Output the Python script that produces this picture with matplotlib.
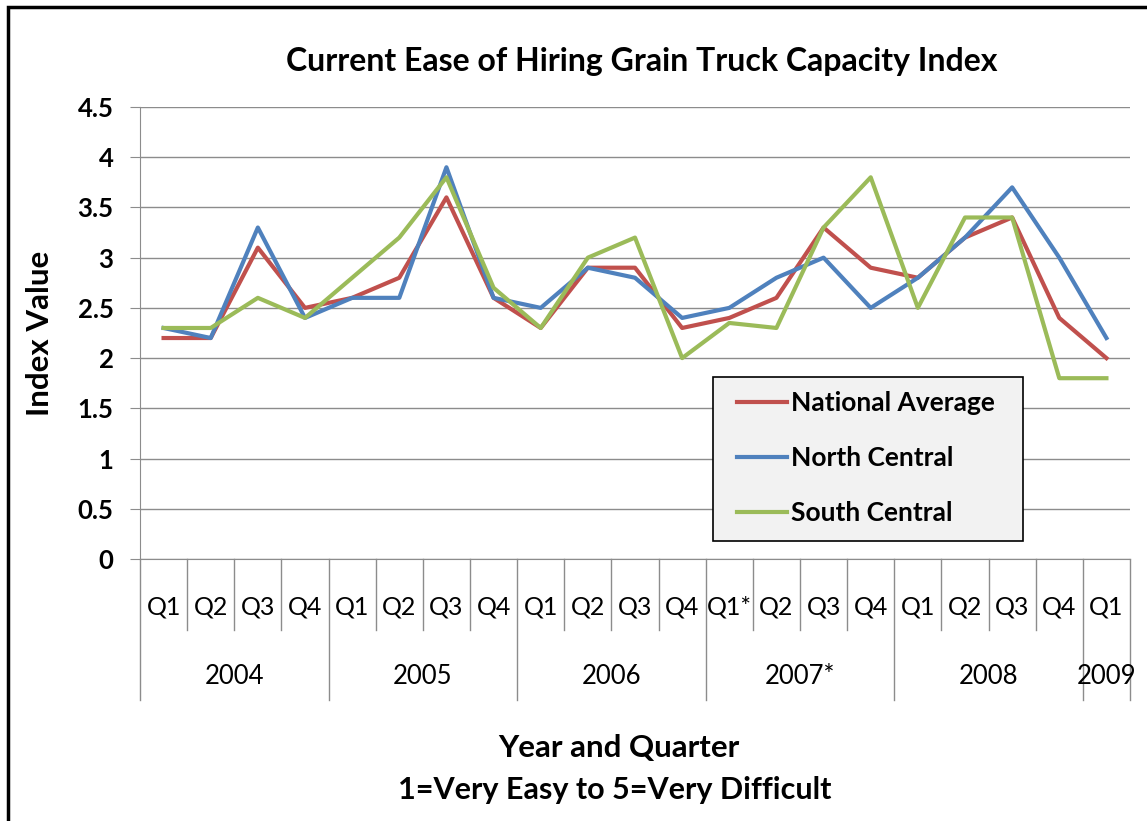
import matplotlib.pyplot as plt
import numpy as np
from matplotlib.patches import Rectangle
from matplotlib.transforms import blended_transform_factory

# quarters 2004 Q1 .. 2009 Q1
quarters = ["Q1", "Q2", "Q3", "Q4"] * 3 + ["Q1*", "Q2", "Q3", "Q4"] + ["Q1", "Q2", "Q3", "Q4"] + ["Q1"]
years = ["2004", "2005", "2006", "2007*", "2008", "2009"]
quarters_per_year = [4, 4, 4, 4, 4, 1]

national = [2.2, 2.2, 3.1, 2.5, 2.6, 2.8, 3.6, 2.6, 2.3, 2.9, 2.9, 2.3,
            2.4, 2.6, 3.3, 2.9, 2.8, 3.2, 3.4, 2.4, 2.0]
north = [2.3, 2.2, 3.3, 2.4, 2.6, 2.6, 3.9, 2.6, 2.5, 2.9, 2.8, 2.4,
         2.5, 2.8, 3.0, 2.5, 2.8, 3.2, 3.7, 3.0, 2.2]
south = [2.3, 2.3, 2.6, 2.4, 2.8, 3.2, 3.8, 2.7, 2.3, 3.0, 3.2, 2.0,
         2.35, 2.3, 3.3, 3.8, 2.5, 3.4, 3.4, 1.8, 1.8]

W, H = 1147, 821
fig = plt.figure(figsize=(W / 100, H / 100), dpi=100)
plt.rcParams['font.family'] = ['Lato', 'DejaVu Sans']

# axes placed in pixel terms of the reference
left, right, top, bottom = 140, 1130, 107, 559
ax = fig.add_axes([left / W, 1 - bottom / H, (right - left) / W, (bottom - top) / H])

grid_col = "#8c8c8c"
x = np.arange(len(quarters))
ax.plot(x, national, color="#C0504D", lw=3, label="National Average")
ax.plot(x, north, color="#4F81BD", lw=3, label="North Central")
ax.plot(x, south, color="#9BBB59", lw=3, label="South Central")

ax.set_xlim(-0.5, len(quarters) - 0.5)
ax.set_ylim(0, 4.5)
ax.set_yticks(np.arange(0, 4.51, 0.5))
ax.set_yticklabels(["0", "0.5", "1", "1.5", "2", "2.5", "3", "3.5", "4", "4.5"],
                   fontsize=18.5, fontweight="bold")
ax.tick_params(axis="y", length=7, color=grid_col, pad=12)
ax.set_xticks([])
ax.grid(axis="y", color=grid_col, lw=1)
ax.set_axisbelow(True)
for s in ["top", "right"]:
    ax.spines[s].set_visible(False)
ax.spines["left"].set_color(grid_col)
ax.spines["bottom"].set_color(grid_col)

fig.text(40 / W, 1 - 333 / H, "Index Value", rotation=90, ha="center", va="center",
         fontsize=22.5, fontweight="bold")
fig.text(642 / W, 1 - 62 / H, "Current Ease of Hiring Grain Truck Capacity Index",
         ha="center", va="center", fontsize=23, fontweight="bold")

# two-level category axis below the plot
tr = blended_transform_factory(ax.transData, fig.transFigure)
y0 = 1 - bottom / H
y_q = 1 - 630 / H
y_y = 1 - 700 / H
year_edges = np.cumsum([0] + quarters_per_year)
for k in range(len(quarters) + 1):
    yb = y_y if k in year_edges else y_q
    ax.plot([k - 0.5, k - 0.5], [y0, yb], color=grid_col, lw=1,
            transform=tr, clip_on=False)
for i, q in enumerate(quarters):
    ax.text(i, 1 - 607 / H, q, transform=tr, ha="center", va="center", fontsize=18)
for j, yr in enumerate(years):
    c = (year_edges[j] + year_edges[j + 1] - 1) / 2
    ax.text(c, 1 - 677 / H, yr, transform=tr, ha="center", va="center", fontsize=18.5)

fig.text(619 / W, 1 - 748 / H, "Year and Quarter", ha="center", va="center",
         fontsize=22.5, fontweight="bold")
fig.text(615 / W, 1 - 790 / H, "1=Very Easy to 5=Very Difficult", ha="center",
         va="center", fontsize=22, fontweight="bold")

# legend box drawn separately so its padding can match the reference
box = Rectangle((713 / W, 1 - 541 / H), (1023 - 713) / W, (541 - 377) / H,
                transform=fig.transFigure, facecolor="#f2f2f2", edgecolor="black",
                lw=1.2, zorder=4, clip_on=False)
ax.add_patch(box)
leg = ax.legend(loc="upper left", bbox_to_anchor=(737 / W, 1 - 391 / H),
                bbox_transform=fig.transFigure,
                prop={"weight": "bold", "size": 19},
                frameon=False, handlelength=1.9, handletextpad=0.15,
                borderpad=0, labelspacing=1.17, borderaxespad=0)
leg.set_zorder(5)

# outer chart border (left and top visible)
fig.patches.append(Rectangle((8 / W, -0.2), 1.2, 1 - 7 / H + 0.2, transform=fig.transFigure,
                             fill=False, edgecolor="black", lw=2.5))

fig.savefig("out.png", dpi=100)
